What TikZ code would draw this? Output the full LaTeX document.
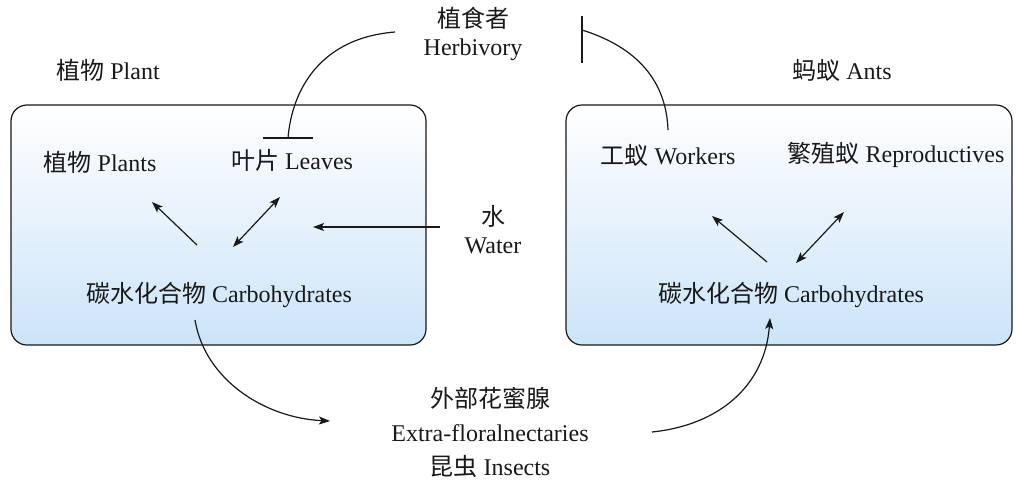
\documentclass[tikz,border=0pt]{standalone}
\usepackage{fontspec}
\setmainfont{Liberation Serif}
\newfontfamily\cjk{Noto Sans CJK SC}
\usetikzlibrary{arrows.meta}
\definecolor{boxblue}{RGB}{204,228,249}
\definecolor{lineblack}{RGB}{25,25,25}
\begin{document}
\begin{tikzpicture}[x=1pt,y=-1pt,
  lbl/.style={inner sep=0pt,font=\fontsize{24}{28}\selectfont,align=center,text=lineblack},
  panel/.style={draw=lineblack,line width=1.2pt,rounded corners=16pt,top color=white,bottom color=boxblue},
  conn/.style={draw=lineblack,line width=1.2pt},
  tip/.style={conn,-{Stealth[length=11pt,width=8pt,inset=2.5pt]}},
  dtip/.style={conn,{Stealth[length=11pt,width=8pt,inset=2.5pt]}-{Stealth[length=11pt,width=8pt,inset=2.5pt]}}]
\useasboundingbox (0,0) rectangle (1016,479);
\fill[white] (0,0) rectangle (1016,479);
% panels
\path[panel] (11,105) rectangle (426,345);
\path[panel] (566,105) rectangle (1012,345);
% titles
\node[lbl] (plant) at (108,70) {{\cjk 植物} Plant};
\node[lbl] (ants) at (842,70) {{\cjk 蚂蚁} Ants};
\node[lbl] (herb) at (473,34) {{\cjk 植食者}\\Herbivory};
% left panel
\node[lbl] (plants) at (100,162) {{\cjk 植物} Plants};
\node[lbl] (leaves) at (292,160) {{\cjk 叶片} Leaves};
\node[lbl] (carbL) at (219,295) {{\cjk 碳水化合物} Carbohydrates};
\node[lbl] (water) at (493,230) {{\cjk 水}\\Water};
% right panel
\node[lbl] (workers) at (668,155) {{\cjk 工蚁} Workers};
\node[lbl] (repro) at (896,155) {{\cjk 繁殖蚁} Reproductives};
\node[lbl] (carbR) at (791,295) {{\cjk 碳水化合物} Carbohydrates};
% bottom
\node[lbl] (nect) at (490,432) {{\cjk 外部花蜜腺}\\[6pt]Extra-floralnectaries\\[6pt]{\cjk 昆虫} Insects};
% coordinates
\coordinate (pl1) at (197,245); \coordinate (pl2) at (152,202);
\coordinate (lv1) at (233,247); \coordinate (lv2) at (280,197);
\coordinate (w1) at (440,227); \coordinate (w2) at (313,227);
\coordinate (wk1) at (767,262); \coordinate (wk2) at (712,216);
\coordinate (rp1) at (796,263); \coordinate (rp2) at (844,212);
\coordinate (hL) at (395,32); \coordinate (barL) at (288,138);
\coordinate (hR) at (582,30); \coordinate (wkTop) at (668,130);
\coordinate (cL) at (195,320); \coordinate (nL) at (330,421);
\coordinate (nR) at (652,432); \coordinate (cR) at (770,318);
% arrows
\draw[tip] (pl1) -- (pl2);
\draw[dtip] (lv1) -- (lv2);
\draw[tip] (w1) -- (w2);
\draw[tip] (wk1) -- (wk2);
\draw[dtip] (rp1) -- (rp2);
% inhibition
\draw[conn] (hL) .. controls (320,38) and (292,90) .. (barL);
\draw[conn] ([xshift=-25pt]barL) -- ([xshift=25pt]barL);
\draw[conn] (wkTop) .. controls (666,75) and (630,45) .. (hR);
\draw[conn] ([yshift=14pt]hR) -- ([yshift=-33pt]hR);
% nectar flow
\draw[tip] (cL) .. controls (205,380) and (265,418) .. (nL);
\draw[tip] (nR) .. controls (720,425) and (765,385) .. (cR);
\end{tikzpicture}
\end{document}
